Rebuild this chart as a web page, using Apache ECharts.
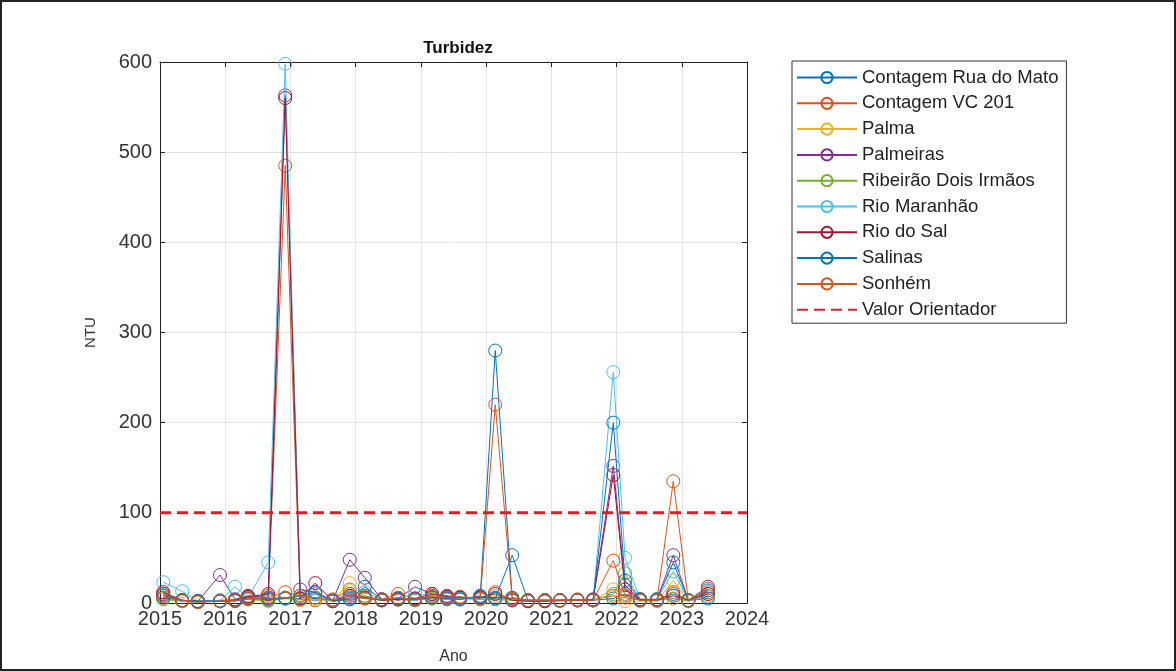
<!DOCTYPE html>
<html>
<head>
<meta charset="utf-8">
<script src="https://cdn.jsdelivr.net/npm/echarts@6/dist/echarts.min.js"></script>
<style>
html,body{margin:0;padding:0;background:#fff;}
#frame{position:absolute;left:0;top:0;width:1176px;height:671px;box-sizing:border-box;border:2px solid #222;}
#chart{position:absolute;left:0;top:0;width:1176px;height:671px;}
</style>
</head>
<body>
<div id="chart"></div>
<div id="frame"></div>
<script>
// sampling times (decimal years)
const times = [2015.05, 2015.34, 2015.58, 2015.92, 2016.15, 2016.35, 2016.66, 2016.92, 2017.15, 2017.38, 2017.65, 2017.91, 2018.14, 2018.40, 2018.65, 2018.91, 2019.17, 2019.40, 2019.60, 2019.91, 2020.14, 2020.40, 2020.64, 2020.90, 2021.13, 2021.40, 2021.64, 2021.95, 2022.13, 2022.36, 2022.62, 2022.87, 2023.10, 2023.40];

const seriesNames = ["Contagem Rua do Mato", "Contagem VC 201", "Palma", "Palmeiras", "Ribeirão Dois Irmãos", "Rio Maranhão", "Rio do Sal", "Salinas", "Sonhém"];

const contagemRuaDoMato = [8,3,2,2,3,6,5,6,5,10,2,4,8,3,4,3,6,5,4,8,280,6,3,3,3,3,3,5,10,4,4,10,3,5];
const contagemVC201     = [10,2,1,3,4,7,8,485,4,3,4,15,6,4,10,5,7,6,6,5,12,4,3,3,3,4,4,8,6,3,3,12,3,12];
const palma             = [5,2,1,2,3,4,2,5,3,4,3,22,7,3,4,4,5,4,5,4,8,3,2,2,3,3,3,15,2,2,2,25,2,10];
const palmeiras         = [10,3,2,31,4,8,6,563,15,12,3,48,28,4,5,18,10,8,6,6,6,5,3,3,3,3,4,152,20,3,4,53,3,18];
const ribeiraoDoisIrmaos= [4,2,1,2,3,4,3,5,4,6,2,6,5,3,4,3,5,4,5,4,4,3,2,2,2,3,3,10,33,3,3,5,2,7];
const rioMaranhao       = [23,13,2,3,18,6,45,598,6,10,3,10,12,4,5,10,8,6,5,5,5,4,3,3,3,3,3,256,50,4,4,35,3,8];
const rioDoSal          = [12,3,2,2,3,7,10,560,5,22,2,8,6,3,4,5,10,7,6,6,10,3,2,2,3,3,3,142,15,4,3,8,3,10];
const salinas           = [6,3,2,2,2,5,4,5,8,12,2,5,18,4,5,4,6,5,4,7,5,53,3,3,3,3,3,200,25,4,4,45,3,14];
const sonhem            = [8,3,1,2,3,5,6,12,8,6,3,10,5,4,6,4,8,6,7,5,220,5,3,3,3,3,3,47,8,3,3,135,3,16];

const valorOrientador = 100;
const xRange = [2015, 2024];
const yTicks = [0, 100, 200, 300, 400, 500, 600];

const allValues = [contagemRuaDoMato, contagemVC201, palma, palmeiras, ribeiraoDoisIrmaos, rioMaranhao, rioDoSal, salinas, sonhem];
const colors = ['#0072BD', '#D95319', '#EDB120', '#7E2F8E', '#77AC30', '#4DBEEE', '#A2142F', '#0072BD', '#D95319'];

const FONT = 'Liberation Sans, Arial, sans-serif';

const series = allValues.map((vals, i) => ({
  name: seriesNames[i],
  type: 'line',
  data: times.map((t, k) => [t, vals[k]]),
  symbol: 'circle',
  symbolSize: 13,
  showAllSymbol: true,
  color: colors[i],
  lineStyle: { width: 1, color: colors[i] },
  itemStyle: { color: 'rgba(255,255,255,0)', borderColor: colors[i], borderWidth: 1 },
  emphasis: { disabled: true },
  animation: false,
  z: 2 + i
}));

series.push({
  name: 'Valor Orientador',
  type: 'line',
  data: [[xRange[0], valorOrientador], [xRange[1], valorOrientador]],
  symbol: 'none',
  color: '#D7202A',
  lineStyle: { width: 3, type: [11, 6], color: '#D7202A' },
  itemStyle: { color: 'rgba(0,0,0,0)', borderWidth: 0 },
  emphasis: { disabled: true },
  animation: false,
  z: 20
});

const legendData = seriesNames.map(n => ({ name: n }));
legendData.push({ name: 'Valor Orientador', itemStyle: { opacity: 0 } });

const chart = echarts.init(document.getElementById('chart'), null, { renderer: 'canvas' });
chart.setOption({
  backgroundColor: '#fff',
  animation: false,
  title: {
    text: 'Turbidez',
    left: 453,
    textAlign: 'center',
    top: 35,
    textStyle: { fontFamily: FONT, fontSize: 17, fontWeight: 'bold', color: '#111' }
  },
  grid: { left: 160, right: 429, top: 62, bottom: 68, containLabel: false },
  legend: {
    orient: 'vertical',
    left: 792,
    top: 61,
    itemWidth: 60,
    itemHeight: 14,
    itemGap: 6.8,
    padding: [7, 8, 4, 4],
    borderColor: '#333',
    borderWidth: 1,
    textStyle: { fontFamily: FONT, fontSize: 18.5, color: '#222' },
    data: legendData
  },
  xAxis: [{
    type: 'value',
    min: xRange[0], max: xRange[1], interval: 1,
    name: 'Ano', nameLocation: 'middle', nameGap: 46,
    nameTextStyle: { fontFamily: FONT, fontSize: 16, color: '#333' },
    axisLine: { show: true, onZero: false, lineStyle: { color: '#222', width: 1 } },
    axisTick: { show: true, inside: true, length: 5, lineStyle: { color: '#222' } },
    axisLabel: { fontFamily: FONT, fontSize: 20, color: '#333', margin: 6, formatter: v => String(Math.round(v)) },
    splitLine: { show: true, lineStyle: { color: '#e3e3e3', width: 1 } }
  }, {
    type: 'value', position: 'top',
    min: xRange[0], max: xRange[1], interval: 1,
    axisLine: { show: true, onZero: false, lineStyle: { color: '#222', width: 1 } },
    axisTick: { show: true, inside: true, length: 5, lineStyle: { color: '#222' } },
    axisLabel: { show: false }, splitLine: { show: false }
  }],
  yAxis: [{
    type: 'value',
    min: yTicks[0], max: yTicks[yTicks.length - 1], interval: 100,
    name: 'NTU', nameLocation: 'middle', nameGap: 62, nameRotate: 90,
    nameTextStyle: { fontFamily: FONT, fontSize: 15, color: '#333' },
    axisLine: { show: true, onZero: false, lineStyle: { color: '#222', width: 1 } },
    axisTick: { show: true, inside: true, length: 5, lineStyle: { color: '#222' } },
    axisLabel: { fontFamily: FONT, fontSize: 20, color: '#333', margin: 8 },
    splitLine: { show: true, lineStyle: { color: '#e3e3e3', width: 1 } }
  }, {
    type: 'value', position: 'right',
    min: yTicks[0], max: yTicks[yTicks.length - 1], interval: 100,
    axisLine: { show: true, onZero: false, lineStyle: { color: '#222', width: 1 } },
    axisTick: { show: true, inside: true, length: 5, lineStyle: { color: '#222' } },
    axisLabel: { show: false }, splitLine: { show: false }
  }],
  series: series
});
</script>
</body>
</html>
